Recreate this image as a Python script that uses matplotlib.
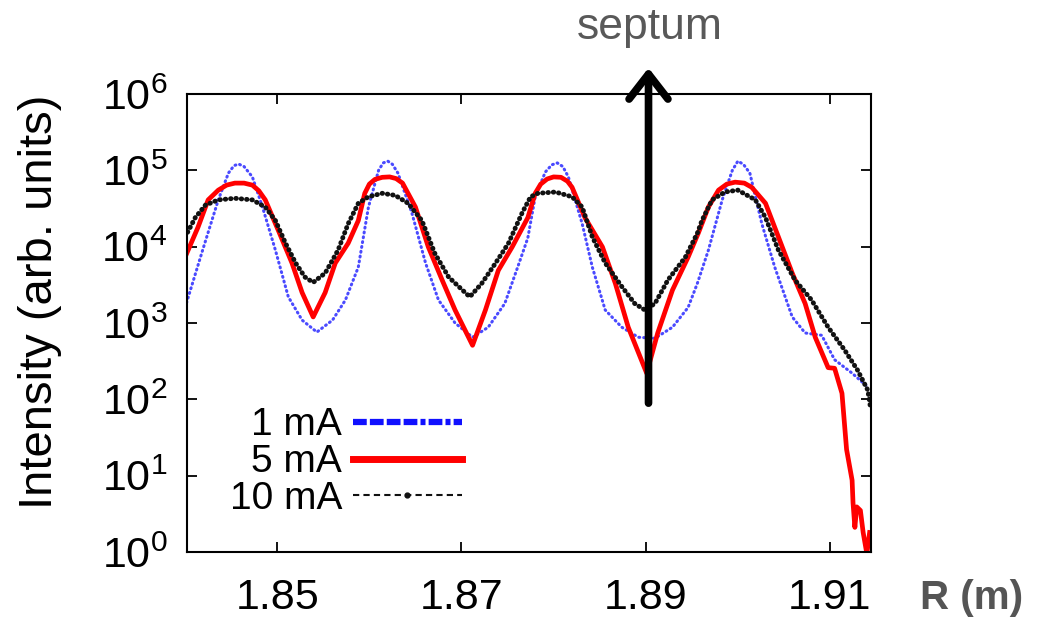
import matplotlib
matplotlib.use('Agg')
import matplotlib.pyplot as plt
from matplotlib.lines import Line2D
from matplotlib.ticker import LogLocator, NullFormatter

plt.rcParams['font.family'] = ['Liberation Sans', 'DejaVu Sans']
plt.rcParams['mathtext.fontset'] = 'custom'
plt.rcParams['mathtext.rm'] = 'Liberation Sans'
plt.rcParams['mathtext.it'] = 'Liberation Sans:italic'
plt.rcParams['mathtext.bf'] = 'Liberation Sans:bold'

# 1 mA beam (blue dotted)
r_1ma = [1.8400, 1.8419, 1.8436, 1.8447, 1.8453, 1.8458, 1.8464, 1.8473, 1.8484, 1.8498,
         1.8512, 1.8527, 1.8543, 1.8560, 1.8574, 1.8588, 1.8599, 1.8610, 1.8615, 1.8620,
         1.8625, 1.8631, 1.8646, 1.8661, 1.8675, 1.8693, 1.8712, 1.8729, 1.8747, 1.8761,
         1.8772, 1.8780, 1.8791, 1.8798, 1.8804, 1.8810, 1.8816, 1.8831, 1.8842, 1.8856,
         1.8874, 1.8892, 1.8910, 1.8929, 1.8946, 1.8956, 1.8968, 1.8983, 1.8994, 1.9000,
         1.9006, 1.9013, 1.9026, 1.9040, 1.9059, 1.9073, 1.9091, 1.9105, 1.9124, 1.9141]
i_1ma = [1.6e3, 9.0e3, 4.1e4, 9.2e4, 1.15e5, 1.21e5, 1.12e5, 8.2e4, 3.3e4, 9.0e3,
         2.2e3, 1.09e3, 760, 1.09e3, 2.0e3, 5.4e3, 3.3e4, 1.0e5, 1.25e5, 1.32e5,
         1.2e5, 9.2e4, 2.8e4, 6.1e3, 2.0e3, 1.0e3, 650, 880, 1.8e3, 5.4e3,
         1.3e4, 4.5e4, 9.5e4, 1.18e5, 1.25e5, 1.12e5, 8.2e4, 2.0e4, 5.4e3, 1.48e3,
         880, 650, 630, 880, 1.6e3, 3.3e3, 9.0e3, 4.1e4, 1.0e5, 1.32e5,
         1.2e5, 9.2e4, 2.0e4, 5.4e3, 1.2e3, 740, 690, 330, 220, 145]

# 5 mA beam (red solid)
r_5ma = [1.8400, 1.8414, 1.8425, 1.8436, 1.8445, 1.8454, 1.8464, 1.8473, 1.8480, 1.8487,
         1.8501, 1.8516, 1.8527, 1.8539, 1.8552, 1.8563, 1.8577, 1.8588, 1.8595, 1.8600,
         1.8606, 1.8614, 1.8622, 1.8629, 1.8636, 1.8650, 1.8664, 1.8679, 1.8693, 1.8712,
         1.8726, 1.8740, 1.8755, 1.8772, 1.8780, 1.8786, 1.8793, 1.8800, 1.8808, 1.8815,
         1.8820, 1.8834, 1.8853, 1.8867, 1.8881, 1.8901, 1.8913, 1.8929, 1.8946, 1.8957,
         1.8968, 1.8979, 1.8988, 1.8997, 1.9007, 1.9015, 1.9030, 1.9044, 1.9059, 1.9073,
         1.9084, 1.9098, 1.9105, 1.9113, 1.9118, 1.9124, 1.9125, 1.9127, 1.9129, 1.9133,
         1.9136, 1.9140, 1.9143]
i_5ma = [7.3e3, 1.8e4, 4.1e4, 5.5e4, 6.4e4, 6.8e4, 6.8e4, 6.4e4, 5.4e4, 4.1e4,
         1.65e4, 6.1e3, 2.5e3, 1.2e3, 2.5e3, 6.1e3, 1.11e4, 2.2e4, 5.0e4, 6.6e4,
         7.6e4, 8.1e4, 8.2e4, 7.8e4, 6.8e4, 3.3e4, 9.9e3, 3.65e3, 1.48e3, 510,
         1.48e3, 4.9e3, 9.9e3, 2.4e4, 5.0e4, 6.6e4, 7.7e4, 8.2e4, 8.1e4, 7.2e4,
         6.0e4, 2.4e4, 9.9e3, 3.3e3, 880, 220, 740, 2.7e3, 7.3e3, 1.5e4,
         3.3e4, 5.5e4, 6.6e4, 7.0e4, 6.8e4, 6.0e4, 3.7e4, 1.34e4, 4.5e3, 1.8e3,
         650, 260, 255, 120, 22, 8.7, 4.4, 2.1, 3.9, 3.5,
         1.8, 0.95, 1.8]

# 10 mA beam (black dots)
r_10ma = [1.8400, 1.8411, 1.8422, 1.8436, 1.8454, 1.8473, 1.8487, 1.8498, 1.8509, 1.8520,
          1.8530, 1.8539, 1.8552, 1.8566, 1.8577, 1.8588, 1.8599, 1.8614, 1.8628, 1.8642,
          1.8657, 1.8671, 1.8686, 1.8701, 1.8709, 1.8722, 1.8737, 1.8751, 1.8766, 1.8775,
          1.8783, 1.8802, 1.8820, 1.8831, 1.8842, 1.8856, 1.8874, 1.8888, 1.8899, 1.8910,
          1.8924, 1.8943, 1.8956, 1.8961, 1.8972, 1.8986, 1.9000, 1.9019, 1.9030, 1.9044,
          1.9062, 1.9080, 1.9098, 1.9116, 1.9130, 1.9141, 1.9144]
i_10ma = [1.34e4, 2.4e4, 3.5e4, 4.1e4, 4.3e4, 4.1e4, 3.3e4, 2.2e4, 1.11e4, 6.1e3,
          4.0e3, 3.4e3, 4.5e3, 9.0e3, 2.0e4, 3.7e4, 4.5e4, 5.0e4, 4.7e4, 3.7e4,
          2.2e4, 8.2e3, 4.0e3, 2.7e3, 2.2e3, 3.3e3, 6.1e3, 1.11e4, 2.8e4, 4.5e4,
          5.0e4, 5.2e4, 4.5e4, 3.3e4, 1.34e4, 6.1e3, 3.0e3, 1.8e3, 1.48e3, 1.8e3,
          3.65e3, 7.3e3, 1.5e4, 2.2e4, 4.1e4, 5.2e4, 5.5e4, 4.1e4, 2.4e4, 9.0e3,
          3.65e3, 2.0e3, 880, 440, 240, 132, 77]

x_ticks = [1.85, 1.87, 1.89, 1.91]
x_tick_labels = ['1.85', '1.87', '1.89', '1.91']
y_ticks = [1, 10, 100, 1e3, 1e4, 1e5, 1e6]
y_tick_labels = ['$10^{0}$', '$10^{1}$', '$10^{2}$', '$10^{3}$', '$10^{4}$', '$10^{5}$', '$10^{6}$']
labels = ['1 mA', '5 mA', '10 mA']
septum_r = 1.8903

fig = plt.figure(figsize=(10.48, 6.2), dpi=100)
ax = fig.add_axes([0.1784, 0.1097, 0.6527, 0.7387])

ax.plot(r_1ma, i_1ma, color='#2a2aff', lw=2.2, ls=(0, (0.3, 1.3)),
        dash_capstyle='round', alpha=0.85)
ax.plot(r_5ma, i_5ma, color='#ff0000', lw=3.4)
ax.plot(r_10ma, i_10ma, color='#111111', lw=3.5, ls=(0, (0.1, 1.0)),
        dash_capstyle='round')

ax.set_yscale('log')
ax.set_xlim(1.8402, 1.91445)
ax.set_ylim(1, 1e6)
ax.set_xticks(x_ticks, x_tick_labels)
ax.set_yticks(y_ticks, y_tick_labels)
ax.yaxis.set_minor_locator(LogLocator(base=10, subs=(2, 5, 8)))
ax.yaxis.set_minor_formatter(NullFormatter())
ax.tick_params(which='both', direction='in', top=True, right=True, width=1.3)
ax.tick_params(which='major', length=7)
ax.tick_params(which='minor', length=3.5)
ax.tick_params(axis='x', labelsize=31, pad=19)
ax.tick_params(axis='y', labelsize=31, pad=14)
for s in ax.spines.values():
    s.set_linewidth(1.5)

handles = [
    Line2D([], [], color='#1010ff', lw=4.5,
           ls=(0, (2.2, 0.5, 2.2, 0.5, 2.2, 0.5, 2.2, 0.5, 0.8, 0.5, 2.2, 0.5, 0.8, 0.5))),
    Line2D([], [], color='#ff0000', lw=5),
    Line2D([], [], color='#111111', lw=1.5, ls=(0, (3, 2)), marker='o', ms=3.5),
]
ax.legend(handles, labels, loc='center right', bbox_to_anchor=(0.402, 0.196),
          frameon=False, markerfirst=False, fontsize=28, handlelength=2.8,
          handletextpad=0.28, labelspacing=0.02, borderpad=0, borderaxespad=0)

ax.annotate('', xy=(septum_r, 2.2e6), xytext=(septum_r, 89),
            arrowprops=dict(arrowstyle='->,head_length=0.45,head_width=0.35',
                            lw=5.5, color='black', mutation_scale=40,
                            shrinkA=0, shrinkB=0),
            annotation_clip=False, zorder=10)

fig.text(0.620, 0.955, 'septum', fontsize=32, color='#595959', ha='center', va='center')
fig.text(0.927, 0.036, 'R (m)', fontsize=29, color='#555555', fontweight='bold',
         ha='center', va='center')
fig.text(0.038, 0.513, 'Intensity (arb. units)', fontsize=34, rotation=90,
         ha='center', va='center')

fig.savefig('out.png', dpi=100)
